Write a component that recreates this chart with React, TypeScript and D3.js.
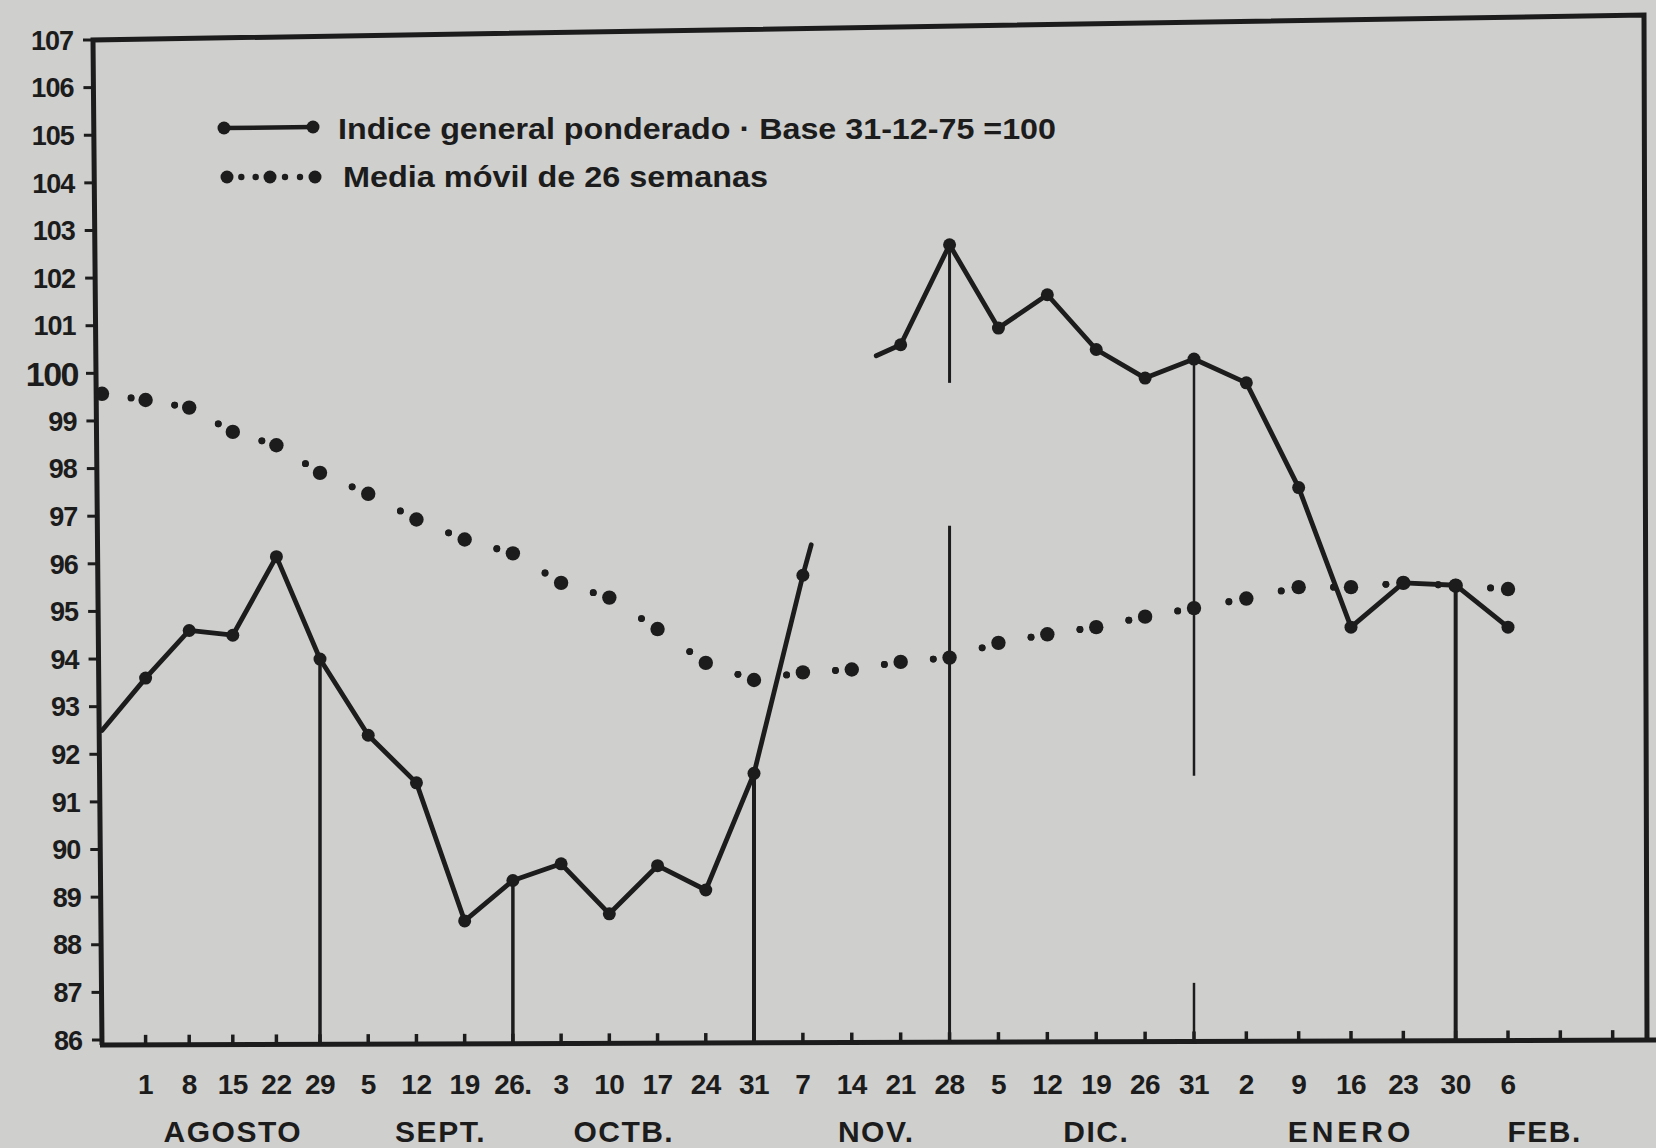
import React, { useEffect } from 'react';
import * as d3 from 'd3';

const W = 1656;
const H = 1148;

// Week labels; index 0 is the week at the y-axis (no label)
const weekLabels = ['', '1', '8', '15', '22', '29', '5', '12', '19', '26.', '3', '10', '17', '24', '31', '7', '14', '21', '28', '5', '12', '19', '26', '31', '2', '9', '16', '23', '30', '6', '', ''];
const months = ['AGOSTO', 'SEPT.', 'OCTB.', 'NOV.', 'DIC.', 'ENERO', 'FEB.'];
const monthAt = [3, 7.5, 11.3, 16.5, 21, 26, 29.7];

const yTicks = [86, 87, 88, 89, 90, 91, 92, 93, 94, 95, 96, 97, 98, 99, 100, 101, 102, 103, 104, 105, 106, 107];

// Índice general ponderado — two drawn stretches (week index, value); the fractional ends are the pen tails
const indexWeeksA = [0, 1, 2, 3, 4, 5, 6, 7, 8, 9, 10, 11, 12, 13, 14, 15, 15.17];
const indexValuesA = [92.5, 93.6, 94.6, 94.5, 96.15, 94.0, 92.4, 91.4, 88.5, 89.35, 89.7, 88.65, 89.66, 89.15, 91.6, 95.76, 96.4];
const indexWeeksB = [16.5, 17, 18, 19, 20, 21, 22, 23, 24, 25, 26, 27, 28, 29];
const indexValuesB = [100.37, 100.6, 102.7, 100.95, 101.65, 100.5, 99.9, 100.3, 99.8, 97.6, 94.67, 95.6, 95.55, 94.67];

// Media móvil de 26 semanas
const maWeeks = [0, 1, 2, 3, 4, 5, 6, 7, 8, 9, 10, 11, 12, 13, 14, 15, 16, 17, 18, 19, 20, 21, 22, 23, 24, 25, 26, 27, 28, 29];
const maValues = [99.57, 99.44, 99.28, 98.77, 98.49, 97.91, 97.47, 96.93, 96.51, 96.22, 95.6, 95.29, 94.63, 93.92, 93.56, 93.72, 93.78, 93.94, 94.03, 94.34, 94.52, 94.67, 94.89, 95.07, 95.27, 95.51, 95.51, 95.6, 95.54, 95.47];

// Month-end drop lines (week index) and the breaks in their printed ink (value ranges)
const monthEndWeeks = [5, 9, 14, 18, 23, 28];
const monthEndWidths = [3.5, 3.5, 4, 3, 2.5, 4];
const monthEndGaps: (number[] | null)[] = [null, null, null, [96.8, 99.8], [87.2, 91.55], null];

const legendLabels = ['Indice general ponderado · Base 31-12-75 =100', 'Media móvil de 26 semanas'];

export default function App() {
  useEffect(() => {
    document.body.style.margin = '0';
  }, []);

  const ink = '#1c1c1c';
  const paper = '#cfcfce';

  const x = d3.scaleLinear().domain([0, 5, 14, 23, 29]).range([102, 320, 754, 1194, 1508]);
  const y = d3.scaleLinear().domain([86, 107]).range([1040, 40]);

  // frame corners (slightly skewed as in the print)
  const tl = [93, 40];
  const tr = [1644, 15];
  const br = [1647, 1040];
  const bl = [102, 1045];
  const axisEnd = [1656, 1040];
  const leftAxisX = (py: number) => tl[0] + ((py - tl[1]) / (bl[1] - tl[1])) * (bl[0] - tl[0]);
  const bottomAxisY = (px: number) => bl[1] + ((px - bl[0]) / (axisEnd[0] - bl[0])) * (axisEnd[1] - bl[1]);

  const line = d3
    .line<[number, number]>()
    .x((d) => x(d[0]))
    .y((d) => y(d[1]));

  const segA: [number, number][] = indexWeeksA.map((w, i) => [w, indexValuesA[i]]);
  const segB: [number, number][] = indexWeeksB.map((w, i) => [w, indexValuesB[i]]);
  const markers = [...segA, ...segB].filter((d) => Number.isInteger(d[0]) && d[0] > 0);

  const indexAt = (w: number) => {
    const ia = indexWeeksA.indexOf(w);
    if (ia >= 0) return indexValuesA[ia];
    const ib = indexWeeksB.indexOf(w);
    return indexValuesB[ib];
  };

  const maPts = maWeeks.map((w, i) => [x(w), y(maValues[i])] as [number, number]);
  const maSmall: [number, number][] = [];
  for (let i = 0; i < maPts.length - 1; i++) {
    const interp = d3.interpolateArray(maPts[i], maPts[i + 1]);
    maSmall.push(interp(1 / 3) as [number, number], interp(2 / 3) as [number, number]);
  }

  const font = "'Liberation Sans', Arial, sans-serif";

  // legend geometry
  const lg1 = { x0: 224, x1: 313, y: 128, tx: 338, ty: 139, tl: 718 };
  const lg2 = { xs: [227, 270, 315], y: 177, tx: 343, ty: 187, tl: 425 };
  const lgSmall: [number, number][] = [];
  for (let i = 0; i < lg2.xs.length - 1; i++) {
    const a = lg2.xs[i];
    const b = lg2.xs[i + 1];
    lgSmall.push([a + (b - a) / 3, lg2.y], [a + (2 * (b - a)) / 3, lg2.y]);
  }

  return (
    <svg
      width={W}
      height={H}
      viewBox={`0 0 ${W} ${H}`}
      style={{ display: 'block', position: 'absolute', left: 0, top: 0 }}
    >
      <rect x={0} y={0} width={W} height={H} fill={paper} />

      {/* frame */}
      <path
        d={`M${bl[0]},${bl[1]} L${tl[0]},${tl[1]} L${tr[0]},${tr[1]} L${br[0]},${br[1]}`}
        fill="none"
        stroke={ink}
        strokeWidth={5}
        strokeLinejoin="miter"
      />
      <line x1={bl[0] - 2} y1={bl[1]} x2={axisEnd[0]} y2={axisEnd[1]} stroke={ink} strokeWidth={5} />

      {/* y ticks & labels */}
      {yTicks.map((v) => {
        const py = y(v);
        const ax = leftAxisX(py);
        const big = v === 100;
        return (
          <g key={v}>
            <line x1={ax - 10} x2={ax} y1={py} y2={py} stroke={ink} strokeWidth={3} />
            <text
              x={ax - (big ? 18 : 20)}
              y={py}
              dy="0.36em"
              textAnchor="end"
              fontFamily={font}
              fontWeight="bold"
              fontSize={big ? 34 : 27}
              letterSpacing={big ? -1.5 : -1}
              fill={ink}
            >
              {v}
            </text>
          </g>
        );
      })}

      {/* x ticks & labels */}
      {weekLabels.map((lab, i) => {
        if (i === 0) return null;
        const px = x(i);
        const ay = bottomAxisY(px);
        return (
          <g key={i}>
            <line x1={px} x2={px} y1={ay} y2={ay - 10} stroke={ink} strokeWidth={3.5} />
            {lab && (
              <text
                x={px}
                y={1094}
                textAnchor="middle"
                fontFamily={font}
                fontWeight="bold"
                fontSize={28}
                letterSpacing={-0.5}
                fill={ink}
              >
                {lab}
              </text>
            )}
          </g>
        );
      })}
      {months.map((m, i) => (
        <text
          key={m}
          x={x(monthAt[i])}
          y={1142}
          textAnchor="middle"
          fontFamily={font}
          fontWeight="bold"
          fontSize={30}
          letterSpacing={m === 'ENERO' ? 4 : 1.5}
          fill={ink}
        >
          {m}
        </text>
      ))}

      {/* month-end drop lines */}
      {monthEndWeeks.map((w, i) => {
        const px = x(w);
        const top = y(indexAt(w));
        const bottom = bottomAxisY(px);
        const gap = monthEndGaps[i];
        const sw = monthEndWidths[i];
        if (!gap) {
          return <line key={w} x1={px} x2={px} y1={top} y2={bottom} stroke={ink} strokeWidth={sw} />;
        }
        return (
          <g key={w}>
            <line x1={px} x2={px} y1={top} y2={y(gap[1])} stroke={ink} strokeWidth={sw} />
            <line x1={px} x2={px} y1={y(gap[0])} y2={bottom} stroke={ink} strokeWidth={sw} />
          </g>
        );
      })}

      {/* moving average */}
      {maSmall.map((p, i) => (
        <circle key={'s' + i} cx={p[0]} cy={p[1]} r={3.4} fill={ink} />
      ))}
      {maPts.map((p, i) => (
        <circle key={'b' + i} cx={p[0]} cy={p[1]} r={7.2} fill={ink} />
      ))}

      {/* index line */}
      <path d={line(segA) || ''} fill="none" stroke={ink} strokeWidth={4.8} strokeLinejoin="round" strokeLinecap="round" />
      <path d={line(segB) || ''} fill="none" stroke={ink} strokeWidth={4.8} strokeLinejoin="round" strokeLinecap="round" />
      {markers.map((d, i) => (
        <circle key={'m' + i} cx={x(d[0])} cy={y(d[1])} r={6.5} fill={ink} />
      ))}

      {/* legend */}
      <line x1={lg1.x0} x2={lg1.x1} y1={lg1.y} y2={lg1.y - 1} stroke={ink} strokeWidth={4.5} />
      <circle cx={lg1.x0} cy={lg1.y} r={6.5} fill={ink} />
      <circle cx={lg1.x1} cy={lg1.y - 1} r={6.5} fill={ink} />
      <text
        x={lg1.tx}
        y={lg1.ty}
        fontFamily={font}
        fontWeight="bold"
        fontSize={29}
        textLength={lg1.tl}
        lengthAdjust="spacingAndGlyphs"
        fill={ink}
      >
        {legendLabels[0]}
      </text>
      {lgSmall.map((p, i) => (
        <circle key={'ls' + i} cx={p[0]} cy={p[1]} r={3.2} fill={ink} />
      ))}
      {lg2.xs.map((px, i) => (
        <circle key={'lb' + i} cx={px} cy={lg2.y} r={6.5} fill={ink} />
      ))}
      <text
        x={lg2.tx}
        y={lg2.ty}
        fontFamily={font}
        fontWeight="bold"
        fontSize={29}
        textLength={lg2.tl}
        lengthAdjust="spacingAndGlyphs"
        fill={ink}
      >
        {legendLabels[1]}
      </text>
    </svg>
  );
}
